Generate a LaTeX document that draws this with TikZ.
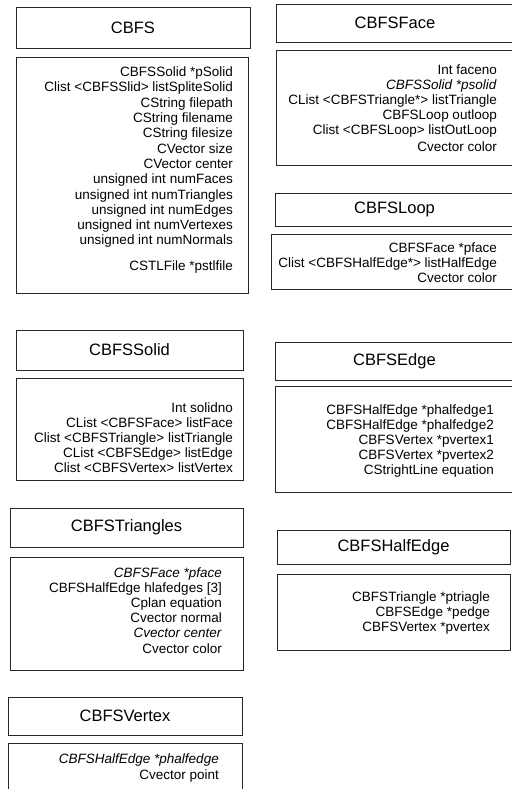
\documentclass[tikz,border=0pt]{standalone}
\usepackage{fontspec}
\setmainfont{Liberation Sans}
\begin{document}
\begin{tikzpicture}[x=1pt,y=-1pt,
  box/.style={draw=black!85, line width=0.9pt, inner sep=0pt, rectangle},
  ttl/.style={font=\fontsize{16.5}{18}\selectfont},
  attr/.style={anchor=base east, inner sep=0pt, font=\fontsize{13.5}{15}\selectfont}]
\useasboundingbox (0,0) rectangle (512,789);
\clip (0,0) rectangle (512,789);
\fill[white] (0,0) rectangle (512,789);

% ---------------- left column ----------------
% CBFS
\node[box, ttl, minimum width=234pt, minimum height=41pt] (cbfsT) at (133,27.5) {CBFS};
\node[box, minimum width=232pt, minimum height=236pt] (cbfsB) at (132,175) {};
\foreach \y/\t [count=\i] in {72/CBFSSolid *pSolid, 87/Clist <CBFSSlid> listSpliteSolid,
  102/CString filepath, 117/CString filename, 132/CString filesize, 148/CVector size,
  163/CVector center, 178/unsigned int numFaces, 194/unsigned int numTriangles,
  209/unsigned int numEdges, 224/unsigned int numVertexes, 239/unsigned int numNormals,
  265/CSTLFile *pstlfile}
  \node[attr] (cbfsA\i) at (233,\y+5) {\t};

% CBFSSolid
\node[box, ttl, minimum width=227pt, minimum height=40pt] (solidT) at (129.5,350) {CBFSSolid};
\node[box, minimum width=227pt, minimum height=102pt] (solidB) at (129.5,429) {};
\foreach \y/\t [count=\i] in {407/Int solidno, 422/CList <CBFSFace> listFace,
  437/Clist <CBFSTriangle> listTriangle, 452/CList <CBFSEdge> listEdge,
  467/Clist <CBFSVertex> listVertex}
  \node[attr] (solidA\i) at (233,\y+5) {\t};

% CBFSTriangles
\node[box, ttl, minimum width=233pt, minimum height=39pt] (triT) at (126.5,527.5) {CBFSTriangles};
\node[box, minimum width=233pt, minimum height=113pt] (triB) at (126.5,613.5) {};
\foreach \y/\t [count=\i] in {572/\textit{CBFSFace *pface}, 587/CBFSHalfEdge hlafedges [3],
  602/Cplan equation, 617/Cvector normal, 632/\textit{Cvector center}, 648/Cvector color}
  \node[attr] (triA\i) at (222,\y+5) {\t};

% CBFSVertex
\node[box, ttl, minimum width=234pt, minimum height=38pt] (vertT) at (125,716) {CBFSVertex};
\node[box, minimum width=234pt, minimum height=70pt] (vertB) at (125,778) {};
\foreach \y/\t [count=\i] in {758/\textit{CBFSHalfEdge *phalfedge}, 774/Cvector point}
  \node[attr] (vertA\i) at (219,\y+5) {\t};

% ---------------- right column ----------------
% CBFSFace
\node[box, ttl, minimum width=238pt, minimum height=38pt] (faceT) at (395,23) {CBFSFace};
\node[box, minimum width=238pt, minimum height=115pt] (faceB) at (395,107.5) {};
\foreach \y/\t [count=\i] in {70/Int faceno, 85/\textit{CBFSSolid *psolid},
  100/CList <CBFSTriangle*> listTriangle, 115/CBFSLoop outloop,
  130/Clist <CBFSLoop> listOutLoop, 146/Cvector color}
  \node[attr] (faceA\i) at (497,\y+5) {\t};

% CBFSLoop
\node[box, ttl, minimum width=239pt, minimum height=33pt] (loopT) at (394.5,209.5) {CBFSLoop};
\node[box, minimum width=243pt, minimum height=55pt] (loopB) at (392.5,262) {};
\foreach \y/\t [count=\i] in {247/CBFSFace *pface, 262/Clist <CBFSHalfEdge*> listHalfEdge,
  277/Cvector color}
  \node[attr] (loopA\i) at (497,\y+5) {\t};

% CBFSEdge
\node[box, ttl, minimum width=239pt, minimum height=38pt] (edgeT) at (394.5,361) {CBFSEdge};
\node[box, minimum width=239pt, minimum height=106pt] (edgeB) at (394.5,439) {};
\foreach \y/\t [count=\i] in {409/CBFSHalfEdge *phalfedge1, 424/CBFSHalfEdge *phalfedge2,
  439/CBFSVertex *pvertex1, 454/CBFSVertex *pvertex2, 469/CStrightLine equation}
  \node[attr] (edgeA\i) at (494,\y+5) {\t};

% CBFSHalfEdge
\node[box, ttl, minimum width=233pt, minimum height=34pt] (heT) at (393.5,547) {CBFSHalfEdge};
\node[box, minimum width=233pt, minimum height=76pt] (heB) at (393.5,612) {};
\foreach \y/\t [count=\i] in {596/CBFSTriangle *ptriagle, 611/CBFSEdge *pedge,
  626/CBFSVertex *pvertex}
  \node[attr] (heA\i) at (490,\y+5) {\t};
\end{tikzpicture}
\end{document}
